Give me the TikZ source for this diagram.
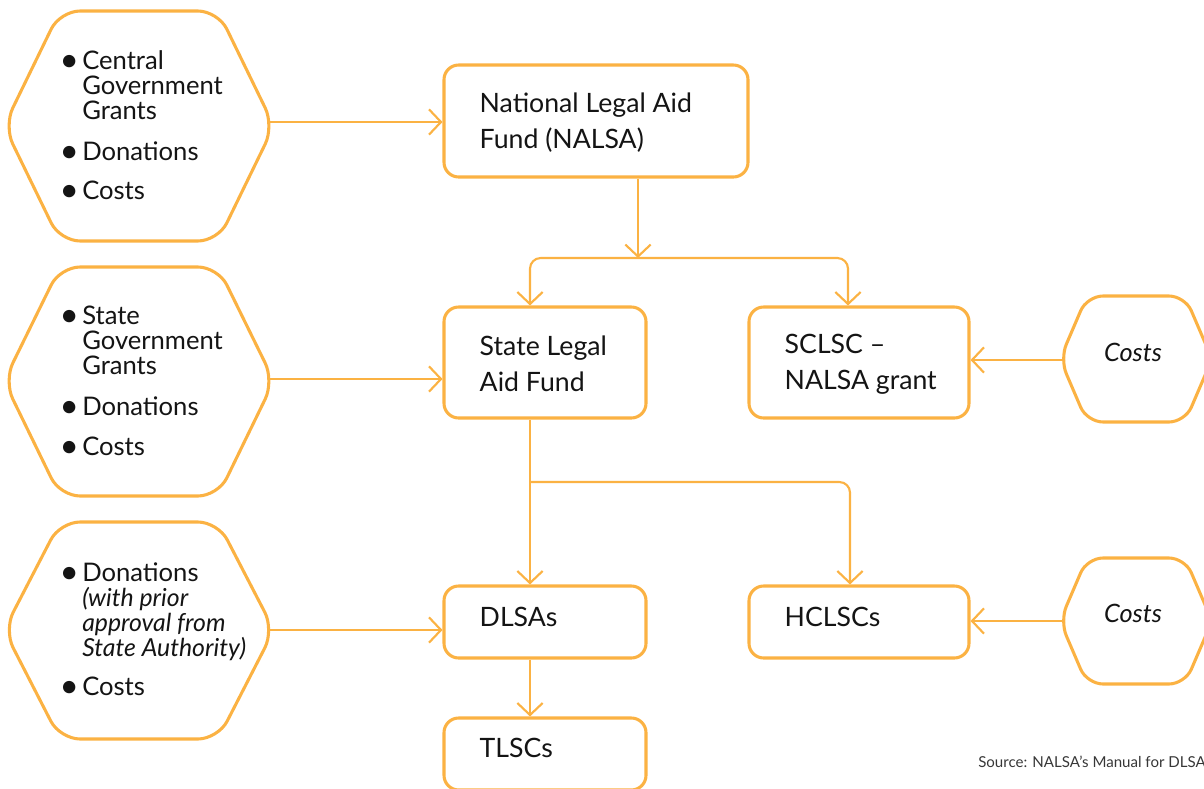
\documentclass[tikz,border=0pt]{standalone}
\usepackage{fontspec}
\setmainfont{Lato}
\usetikzlibrary{arrows.meta}
\definecolor{org}{RGB}{251,178,67}
\definecolor{ink}{RGB}{20,20,20}
\newcommand\bul{\llap{\raisebox{-1.6pt}{\scalebox{1.3}{\textbullet}}\hspace{2.5pt}}}
\begin{document}
\begin{tikzpicture}[x=0.75pt,y=-0.75pt,
  box/.style={draw=org, line width=2.3pt, rounded corners=11pt, fill=white, inner sep=0pt},
  hexline/.style={draw=org, line width=2.3pt, rounded corners=15pt},
  conn/.style={draw=org, line width=1.6pt},
  arr/.style={conn, -{Straight Barb[length=9pt,width=19pt,line width=1.6pt]}},
  lbl/.style={font=\fontsize{20}{27}\selectfont, text=ink, align=left, inner sep=0pt},
  hextxt/.style={font=\fontsize{19.2}{18.75}\selectfont, text=ink, align=left, inner sep=0pt},
  costtxt/.style={font=\fontsize{19}{20}\selectfont\itshape, text=ink, inner sep=0pt}]
\useasboundingbox (0,0) rectangle (1204,789);
\clip (0,0) rectangle (1204,789);

% left hexagons
\draw[hexline] (60,11) -- (218,11) -- (274,126) -- (218,241) -- (60,241) -- (4,126) -- cycle;
\draw[hexline] (60,267) -- (218,267) -- (274,381) -- (218,496) -- (60,496) -- (4,381) -- cycle;
\draw[hexline] (60,522) -- (218,522) -- (274,630) -- (218,739) -- (60,739) -- (4,630) -- cycle;
% right hexagons
\draw[hexline, rounded corners=12pt] (1087,296) -- (1185,296) -- (1212,359) -- (1185,422) -- (1087,422) -- (1060,359) -- cycle;
\draw[hexline, rounded corners=12pt] (1087,558) -- (1185,558) -- (1212,621) -- (1185,684) -- (1087,684) -- (1060,621) -- cycle;

\coordinate (h1r) at (268,122);
\coordinate (h2r) at (268,379);
\coordinate (h3r) at (268,630);
\coordinate (r1l) at (1065,360);
\coordinate (r2l) at (1065,621);

% hexagon texts
\node[hextxt, anchor=north west] (t1) at (82,50) {\bul Central\\Government\\Grants\\[12pt]\bul Donations\\[11pt]\bul Costs};
\node[hextxt, anchor=north west] (t2) at (82,306) {\bul State\\Government\\Grants\\[12pt]\bul Donations\\[11pt]\bul Costs};
\node[hextxt, anchor=north west] (t3) at (82,562) {\bul Donations\\{\fontsize{18.6}{18.75}\selectfont\itshape (with prior}\\{\fontsize{18.6}{18.75}\selectfont\itshape approval from}\\{\fontsize{18.6}{18.75}\selectfont\itshape State Authority)}\\[11pt]\bul Costs};
\node[costtxt] (k1) at (1133,352) {Costs};
\node[costtxt] (k2) at (1133,613) {Costs};

% boxes
\node[box, minimum width=228pt, minimum height=84pt] (nalsa) at (596,121) {};
\node[box, minimum width=151.5pt, minimum height=83.25pt] (state) at (545,362.5) {};
\node[box, minimum width=165pt, minimum height=83.25pt] (sclsc) at (859,362.5) {};
\node[box, minimum width=151.5pt, minimum height=54pt] (dlsa) at (545,622) {};
\node[box, minimum width=165pt, minimum height=54pt] (hclsc) at (859,622) {};
\node[box, minimum width=151.5pt, minimum height=54pt] (tlsc) at (545,754) {};

\node[lbl, anchor=west] (l1) at ([xshift=27.75pt,yshift=-1pt]nalsa.west) {National Legal Aid\\Fund (NALSA)};
\node[lbl, anchor=west] (l2) at ([xshift=27.75pt,yshift=-1pt]state.west) {State Legal\\Aid Fund};
\node[lbl, anchor=west] (l3) at ([xshift=27.75pt,yshift=-1pt]sclsc.west) {SCLSC –\\NALSA grant};
\node[lbl, anchor=west] (l4) at ([xshift=27.75pt,yshift=3.75pt]dlsa.west) {DLSAs};
\node[lbl, anchor=west] (l5) at ([xshift=27.75pt,yshift=3.75pt]hclsc.west) {HCLSCs};
\node[lbl, anchor=west] (l6) at ([xshift=27.75pt,yshift=4.5pt]tlsc.west) {TLSCs};

% connectors
\coordinate (ca) at (530,0);
\coordinate (cb) at (848,0);
\coordinate (cc) at (850,0);
\coordinate (j1) at (638,258);
\coordinate (j2) at (530,482);
\draw[arr] (h1r) -- (h1r -| nalsa.west);
\draw[arr] (h2r) -- (h2r -| state.west);
\draw[arr] (h3r) -- (h3r -| dlsa.west);
\draw[arr] (r1l) -- (r1l -| sclsc.east);
\draw[arr] (r2l) -- (r2l -| hclsc.east);
\draw[arr] (nalsa.south -| j1) -- (j1);
\draw[arr, rounded corners=8pt] (j1) -| (state.north -| ca);
\draw[arr, rounded corners=8pt] (j1) -| (sclsc.north -| cb);
\draw[arr] (state.south -| ca) -- (dlsa.north -| ca);
\draw[arr, rounded corners=8pt] (j2) -| (hclsc.north -| cc);
\draw[arr] (dlsa.south -| ca) -- (tlsc.north -| ca);

\node[font=\fontsize{11.3}{12}\selectfont, anchor=base west, text=ink!85, inner sep=0pt] (src) at (978,767) {Source: NALSA’s Manual for DLSA};
\end{tikzpicture}
\end{document}
